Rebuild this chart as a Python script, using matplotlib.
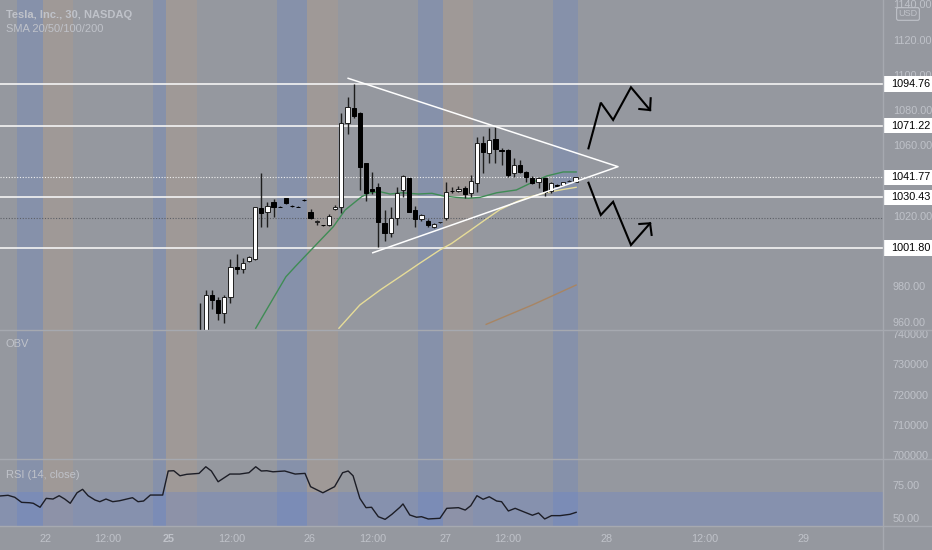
import numpy as np
import matplotlib
matplotlib.use("Agg")
import matplotlib.pyplot as plt
from matplotlib.patches import Rectangle
from matplotlib.lines import Line2D

plt.rcParams['font.family'] = ['Liberation Sans', 'DejaVu Sans']

# TSLA 30 min candles, index 0 = first bar visible in the price pane
opens = [945, 945, 975.1, 972.3, 965.1, 974.2, 991.2, 989.7, 994.6, 995.4,
         1024.6, 1022.4, 1027.7, 1025.3, 1030.0, 1025.7, 1025.3, 1029.1, 1022.4, 1016.4,
         1014.9, 1014.8, 1024.1, 1024.9, 1072.8, 1081.3, 1078.2, 1049.8, 1035.2, 1036.2,
         1015.8, 1010.1, 1019.0, 1034.7, 1041.3, 1023.3, 1018.2, 1017.1, 1013.5, 1016.3,
         1018.6, 1034.2, 1034.3, 1035.6, 1032.8, 1038.8, 1061.1, 1055.5, 1063.4, 1057.1,
         1057.3, 1044.1, 1048.8, 1045.0, 1041.6, 1039.0, 1041.6, 1034.3, 1037.4, 1037.7,
         1039.8, 1039.4]
closes = [948, 975.1, 972.3, 965.1, 973.8, 990.9, 989.7, 993.5, 996.5, 1024.9,
          1021.5, 1025.6, 1025.0, 1025.1, 1027.1, 1025.5, 1025.1, 1028.9, 1019.0, 1017.3,
          1014.7, 1020.1, 1025.2, 1072.8, 1081.6, 1076.6, 1047.5, 1032.8, 1034.3, 1016.7,
          1010.5, 1018.6, 1033.1, 1042.6, 1022.4, 1018.1, 1020.3, 1014.7, 1015.2, 1016.5,
          1033.7, 1034.0, 1035.4, 1032.4, 1039.9, 1061.1, 1056.4, 1063.0, 1057.7, 1056.9,
          1043.2, 1048.8, 1045.0, 1042.2, 1038.8, 1041.6, 1033.7, 1038.5, 1037.2, 1039.0,
          1039.9, 1041.77]
highs = [970.4, 978.0, 978.0, 974.2, 975.1, 995.4, 998.2, 996.3, 997.4, 1025.2,
         1044.5, 1028.0, 1029.4, 1025.5, 1030.4, 1025.9, 1025.5, 1029.3, 1023.7, 1017.6,
         1015.1, 1021.1, 1026.2, 1078.2, 1087.6, 1094.9, 1079.1, 1049.8, 1045.0, 1038.5,
         1023.3, 1024.9, 1036.2, 1043.2, 1041.6, 1025.6, 1021.1, 1018.0, 1015.8, 1016.8,
         1039.4, 1036.2, 1037.0, 1037.2, 1043.2, 1064.9, 1065.3, 1069.7, 1070.6, 1058.3,
         1057.7, 1052.8, 1051.7, 1045.6, 1042.6, 1042.2, 1042.2, 1039.4, 1037.8, 1039.4,
         1040.3, 1042.0]
lows = [940, 940, 967.0, 961.0, 959.1, 970.8, 987.1, 987.5, 993.7, 995.0,
        1013.9, 1013.9, 1019.5, 1025.0, 1026.8, 1025.3, 1024.9, 1028.7, 1018.1, 1014.8,
        1014.5, 1014.5, 1023.3, 1021.8, 1066.4, 1075.3, 1034.7, 1028.6, 1032.4, 1002.2,
        1005.9, 1008.2, 1014.8, 1030.9, 1022.0, 1013.9, 1017.1, 1013.8, 1013.0, 1016.1,
        1017.6, 1033.1, 1033.4, 1030.0, 1030.6, 1033.7, 1044.1, 1049.8, 1049.8, 1048.8,
        1042.2, 1042.2, 1044.1, 1039.4, 1038.0, 1035.6, 1031.3, 1033.1, 1036.9, 1037.3,
        1039.5, 1039.0]

# moving averages (bar position, price)
sma20_x = [9.1, 14.0, 15.5, 16.8, 21.7, 23.6, 26.3, 27.6, 29.3, 30.9, 32.8, 35.5, 37.7,
           39.5, 41.7, 43.6, 45.5, 48.2, 51.4, 53.6, 56.3, 59.0, 61.1]
sma20_y = [956.3, 985.5, 991.2, 996.0, 1013.9, 1023.3, 1030.9, 1033.1, 1033.7, 1032.4,
           1033.1, 1032.4, 1032.8, 1031.3, 1030.5, 1030.0, 1030.5, 1033.1, 1034.7, 1038.4,
           1042.6, 1044.9, 1044.9]
sma50_x = [22.6, 26.0, 29.3, 32.5, 35.7, 39.0, 40.9, 43.6, 46.3, 48.7, 51.4, 53.6, 56.3, 59.0, 61.1]
sma50_y = [956.3, 969.5, 978.0, 985.5, 993.1, 1000.7, 1004.4, 1011.0, 1017.7, 1023.5,
           1028.0, 1030.8, 1033.2, 1035.0, 1036.2]
sma100_x = [46.5, 54.0, 61.1]
sma100_y = [958.5, 969.5, 980.8]

# RSI(14) (bar position, value)
rsi_x = [-32.4, -31.1, -30.0, -28.9, -27.6, -27.0, -25.9, -24.9, -23.8, -22.8, -21.9, -21.0,
         -19.9, -19.0, -18.1, -17.0, -16.2, -15.2, -14.1, -13.0, -12.0, -10.9, -10.0, -9.1,
         -8.0, -6.0, -5.1, -4.2, -3.2, -2.1, -0.1, 1.0, 1.9, 3.0, 4.9, 6.5, 8.0, 9.1, 10.0,
         10.9, 11.9, 13.8, 15.5, 17.1, 18.0, 20.0, 21.9, 23.2, 24.1, 24.9, 26.0, 27.0, 27.9,
         29.0, 30.1, 31.2, 32.5, 33.0, 34.1, 35.2, 36.0, 37.1, 39.0, 40.1, 42.0, 43.1, 44.0,
         45.0, 46.0, 47.0, 48.2, 49.0, 50.1, 51.2, 52.8, 54.0, 55.0, 56.0, 57.1, 58.5, 60.1, 61.1]
rsi_v = [66.8, 67.3, 65.8, 62.0, 61.7, 61.3, 58.3, 65.0, 64.5, 67.0, 64.5, 61.3,
         69.2, 71.8, 67.0, 63.8, 62.5, 64.5, 62.5, 63.2, 64.3, 65.5, 62.5, 63.0,
         67.5, 67.5, 85.6, 85.8, 82.0, 83.1, 83.8, 88.8, 85.6, 77.5, 83.3, 83.3, 84.3, 88.8, 85.6,
         85.8, 85.0, 85.6, 83.3, 83.8, 73.8, 69.2, 73.8, 84.3, 85.6, 82.0, 65.0, 58.0, 58.3,
         51.2, 49.2, 53.0, 58.3, 60.8, 52.5, 50.8, 51.2, 49.5, 50.0, 57.5, 58.0, 56.2, 59.5,
         67.0, 64.3, 66.2, 63.0, 62.5, 55.5, 57.5, 54.5, 52.3, 54.0, 49.5, 52.0, 52.0, 53.0, 54.5]

# drawings
levels = [1094.76, 1071.22, 1030.43, 1001.80]
last_price = 1041.77
prev_close = 1018.6
label_prices = [1094.76, 1071.22, 1041.77, 1030.43, 1001.80]
tri_x = [24.1, 67.9, 28.1]          # upper start, apex, lower start
tri_y = [1098.0, 1047.9, 999.1]
up_path_x = [63.1, 65.1, 67.1, 70.0, 73.1]
up_path_y = [1058.3, 1084.2, 1074.4, 1092.9, 1080.0]
up_head_x = [71.35, 73.1, 73.2]
up_head_y = [1080.6, 1080.0, 1086.7]
dn_path_x = [63.1, 65.1, 67.1, 70.0, 73.1]
dn_path_y = [1038.8, 1020.5, 1028.0, 1003.5, 1015.8]
dn_head_x = [71.35, 73.1, 73.35]
dn_head_y = [1015.4, 1015.8, 1009.2]

# session shading (bar positions)
post_sessions = [(-29.7, -25.5), (-7.6, -5.45), (12.55, 17.45), (35.5, 39.5), (57.4, 61.4)]
pre_sessions = [(-25.5, -20.6), (-5.45, -0.5), (17.45, 22.5), (39.5, 44.4)]

tick_pos = [-24.97, -14.9, -5.0, 5.23, 17.89, 28.12, 39.97, 50.03, 66.1, 82.0, 97.95]
tick_lab = ['22', '12:00', '25', '12:00', '26', '12:00', '27', '12:00', '28', '12:00', '29']
# 1000 and 1040 sit under the price labels, so they are not shown
price_ticks = [960, 980, 1020, 1060, 1080, 1100, 1120, 1140]
obv_ticks = [700000, 710000, 720000, 730000, 740000]
rsi_ticks = [50, 75]

bg = '#95989f'
txt = '#bfc2c9'
W, H = 932, 550
xl = (-32.4, 110.9)

fig = plt.figure(figsize=(9.32, 5.5), dpi=100, facecolor=bg)
aw = 883 / W
ax = fig.add_axes([0, 1 - 330 / H, aw, 330 / H])
ax_obv = fig.add_axes([0, 1 - 459.3 / H, aw, 129.3 / H])
ax_rsi = fig.add_axes([0, 1 - 526 / H, aw, 66.7 / H])

for a in (ax, ax_obv, ax_rsi):
    a.set_facecolor(bg)
    a.set_xlim(*xl)
    for s in a.spines.values():
        s.set_visible(False)
    for l, r in post_sessions:
        a.axvspan(l, r, color='#6482c8', alpha=0.29, lw=0, zorder=0)
    for l, r in pre_sessions:
        a.axvspan(l, r, color='#c8a078', alpha=0.2, lw=0, zorder=0)
    a.yaxis.tick_right()
    a.tick_params(axis='y', length=0, pad=7, labelsize=7.8, labelcolor=txt)
    a.tick_params(axis='x', length=0)
    a.set_xticks([])

# price pane
ax.set_ylim(955.3, 1142.4)
ax.set_yticks(price_ticks)
ax.set_yticklabels([f'{v:.2f}' for v in price_ticks])
for lv in levels:
    ax.axhline(lv, color='#f4f4f4', lw=1.2, zorder=2)
ax.axhline(last_price, color='#f0f0f0', lw=0.8, ls=(0, (1, 1.5)), zorder=2)
ax.axhline(prev_close, color='#5c5f66', lw=0.8, ls=(0, (1, 1.5)), zorder=2)

ax.plot(sma20_x, sma20_y, color='#3f8c55', lw=1, zorder=3)
ax.plot(sma50_x, sma50_y, color='#e6dc98', lw=1, zorder=3)
ax.plot(sma100_x, sma100_y, color='#a88563', lw=1, zorder=3)

idx = np.arange(len(opens))
o = np.array(opens)
c = np.array(closes)
up = c >= o
ax.vlines(idx, lows, highs, color='#1e1e1e', lw=1, zorder=4)
ax.bar(idx[up], (c - o)[up], bottom=o[up], width=0.68, color='white',
       edgecolor='#1e1e1e', lw=0.7, zorder=5)
ax.bar(idx[~up], (c - o)[~up], bottom=o[~up], width=0.68, color='black',
       edgecolor='black', lw=0.7, zorder=5)

ax.plot(tri_x, tri_y, color='white', lw=1.1, zorder=6)
for px, py in [(up_path_x, up_path_y), (up_head_x, up_head_y),
               (dn_path_x, dn_path_y), (dn_head_x, dn_head_y)]:
    ax.plot(px, py, color='black', lw=1.5, zorder=6, solid_joinstyle='miter')

# price labels on the scale
tr = ax.get_yaxis_transform()
for p in label_prices:
    ax.add_patch(Rectangle((1.0, p - 4.3), (W - 883) / 883, 8.6, transform=tr,
                           facecolor='white', edgecolor='none', clip_on=False, zorder=10))
    ax.text(1.0 + 8 / 883, p, f'{p:.2f}', transform=tr, ha='left', va='center',
            fontsize=7.8, color='black', clip_on=False, zorder=11)

# OBV pane
ax_obv.set_ylim(698700, 741300)
ax_obv.set_yticks(obv_ticks)
ax_obv.set_yticklabels([str(v) for v in obv_ticks])

# RSI pane
ax_rsi.set_ylim(44.2, 94.4)
ax_rsi.axhspan(30, 70, color='#6482d2', alpha=0.3, lw=0, zorder=1)
ax_rsi.plot(rsi_x, rsi_v, color='#1c1d26', lw=1, zorder=3)
ax_rsi.set_yticks(rsi_ticks)
ax_rsi.set_yticklabels([f'{v:.2f}' for v in rsi_ticks])
ax_rsi.set_xticks(tick_pos)
ax_rsi.set_xticklabels(tick_lab)
ax_rsi.tick_params(axis='x', length=0, pad=6, labelsize=7.8, labelcolor=txt)
for lab in ax_rsi.get_xticklabels():
    if lab.get_text() == '25':
        lab.set_fontweight('bold')

# pane separators
sep = '#a6a9b0'
for yy in (330, 459.3, 526):
    fig.add_artist(Line2D([0, 1], [1 - yy / H] * 2, color=sep, lw=1))
fig.add_artist(Line2D([aw, aw], [0, 1], color=sep, lw=1))

# legends / titles
fig.text(6 / W, 1 - 15 / H, 'Tesla, Inc., 30, NASDAQ', fontsize=8, fontweight='bold',
         color=txt, va='center')
fig.text(6 / W, 1 - 29 / H, 'SMA 20/50/100/200', fontsize=8, color=txt, va='center')
fig.text(6 / W, 1 - 344 / H, 'OBV', fontsize=8, color=txt, va='center')
fig.text(6 / W, 1 - 475 / H, 'RSI (14, close)', fontsize=8, color=txt, va='center')
fig.text(908 / W, 1 - 14 / H, 'USD', fontsize=6.5, color=txt, ha='center', va='center',
         bbox=dict(boxstyle='round,pad=0.2', fc='none', ec=txt, lw=0.8))

fig.savefig('out.png', dpi=100, facecolor=bg)
